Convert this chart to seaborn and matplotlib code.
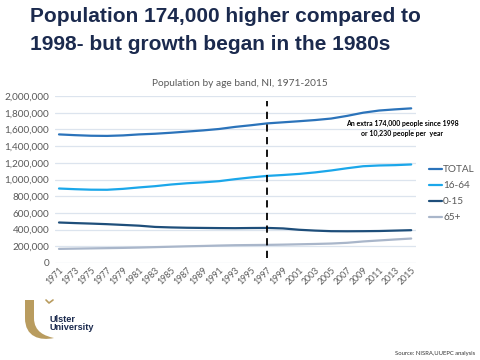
import numpy as np
import pandas as pd
import seaborn as sns
import matplotlib.pyplot as plt
from matplotlib.path import Path
from matplotlib.patches import PathPatch

# Population by age band, NI (odd years)
years = list(range(1971, 2016, 2))
total = [1540, 1531, 1524, 1522, 1528, 1540, 1548, 1560, 1574, 1588, 1605, 1630,
         1650, 1672, 1685, 1698, 1712, 1730, 1762, 1800, 1826, 1840, 1852]
age_16_64 = [892, 884, 878, 877, 888, 905, 920, 940, 955, 966, 980, 1004,
             1025, 1043, 1054, 1067, 1085, 1108, 1135, 1159, 1168, 1172, 1180]
age_0_15 = [485, 478, 472, 465, 456, 447, 432, 426, 422, 420, 418, 417,
            419, 420, 414, 398, 388, 381, 380, 381, 383, 388, 393]
age_65 = [169, 172, 175, 178, 181, 185, 190, 195, 200, 204, 209, 213,
          215, 217, 220, 224, 228, 233, 242, 258, 270, 282, 293]
series_names = ["TOTAL", "16-64", "0-15", "65+"]
colors = ["#2B73BA", "#1BA7EA", "#1E4E7A", "#A9B6CA"]
marker_year = 1997

df = pd.DataFrame({"year": years, "TOTAL": total, "16-64": age_16_64,
                   "0-15": age_0_15, "65+": age_65})
long = df.melt(id_vars="year", var_name="band", value_name="pop")
long["pop"] = long["pop"] * 1000

sns.set_style("white")
plt.rcParams['font.family'] = ['Lato', 'DejaVu Sans']

fig = plt.figure(figsize=(4.8, 3.6), dpi=100)
ax = fig.add_axes([55 / 480, 1 - 263 / 360, (416 - 55) / 480, (263 - 96) / 360])

sns.lineplot(data=long, x="year", y="pop", hue="band", hue_order=series_names,
             palette=colors, linewidth=1.6, ax=ax, legend=True)

# dashed reference line
ax.plot([marker_year, marker_year], [60000, 1945000], color="black",
        linestyle=(0, (4, 3)), linewidth=1.3, clip_on=False, zorder=5)

ax.set_xlim(1970.5, 2015.6)
ax.set_ylim(0, 2000000)
ax.set_yticks(np.arange(0, 2000001, 200000))
ax.set_yticklabels([f"{v:,}" for v in range(0, 2000001, 200000)])
ax.set_xticks(years)
ax.set_xticklabels([str(y) for y in years], rotation=45, ha="right",
                   rotation_mode="anchor")
ax.tick_params(axis="y", labelsize=7.2, colors="#595959", length=0, pad=4)
ax.tick_params(axis="x", labelsize=6.3, colors="#595959", length=0, pad=2)
ax.grid(axis="y", color="#DCE4EE", linewidth=0.9)
ax.grid(axis="x", visible=False)
for s in ax.spines.values():
    s.set_visible(False)
ax.set_xlabel("")
ax.set_ylabel("")

handles, labels = ax.get_legend_handles_labels()
ax.legend(handles, labels, loc="upper left", bbox_to_anchor=(425 / 480, 1 - 161 / 360),
          bbox_transform=fig.transFigure, frameon=False, fontsize=7.2,
          handlelength=1.3, handletextpad=0.1, labelspacing=0.7,
          labelcolor="#595959", borderaxespad=0)

ax.text(402 / 480, 1 - 128.5 / 360, "An extra 174,000 people since 1998\nor 10,230 people per  year",
        transform=fig.transFigure, ha="center", va="center", fontsize=5.0,
        fontweight="bold", color="black", linespacing=1.45)

# titles
fig.text(30 / 480, 1 - 17 / 360, "Population 174,000 higher compared to",
         fontsize=15, fontweight="bold", color="#1B2A4E", va="center", ha="left",
         family=["Liberation Sans", "DejaVu Sans"])
fig.text(30 / 480, 1 - 44 / 360, "1998- but growth began in the 1980s",
         fontsize=15, fontweight="bold", color="#1B2A4E", va="center", ha="left",
         family=["Liberation Sans", "DejaVu Sans"])
fig.text(240 / 480, 1 - 84 / 360, "Population by age band, NI, 1971-2015",
         fontsize=7.3, color="#595959", ha="center", va="center")

# logo
def px(x, y):
    return (x / 480, 1 - y / 360)

verts = [px(25, 300), px(34, 300), px(34, 318), px(34, 332), px(45, 336), px(54, 338),
         px(40, 341), px(25, 337), px(25, 318), px(25, 300)]
codes = [Path.MOVETO, Path.LINETO, Path.LINETO, Path.CURVE4, Path.CURVE4, Path.CURVE4,
         Path.CURVE4, Path.CURVE4, Path.CURVE4, Path.CLOSEPOLY]
fig.patches.append(PathPatch(Path(verts, codes), facecolor="#B99C5F", edgecolor="none",
                             transform=fig.transFigure, figure=fig))
fig.lines.append(plt.Line2D([46 / 480, 49 / 480, 53 / 480], [1 - 300 / 360, 1 - 303 / 360, 1 - 300 / 360],
                            color="#B99C5F", linewidth=1.2, transform=fig.transFigure, figure=fig))
fig.text(49 / 480, 1 - 319 / 360, "Ulster", fontsize=6.6, fontweight="bold",
         color="#1B2A4E", va="center", family=["Liberation Sans", "DejaVu Sans"])
fig.text(49 / 480, 1 - 328 / 360, "University", fontsize=6.6, fontweight="bold",
         color="#1B2A4E", va="center", family=["Liberation Sans", "DejaVu Sans"])

fig.text(475 / 480, 1 - 354 / 360, "Source: NISRA,UUEPC analysis", fontsize=4.2,
         color="#333333", ha="right", va="center")

fig.savefig("out.png", dpi=100)
